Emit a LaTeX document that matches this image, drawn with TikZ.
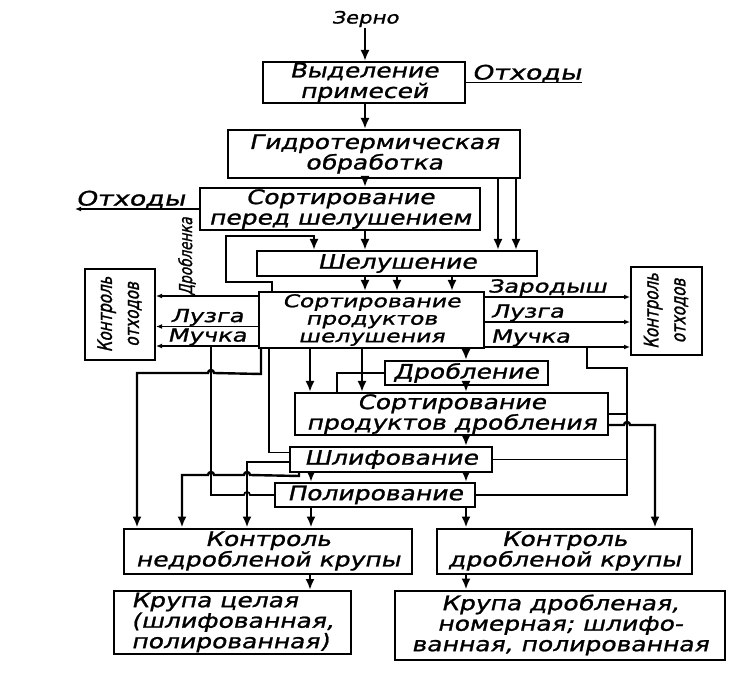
\documentclass[tikz,border=0pt]{standalone}
\usepackage{graphicx}
\usepackage{fontspec}
\newfontfamily\sketchfont[FakeSlant=0.22,FakeStretch=1.25,FakeBold=1.2]{DejaVu Sans}
\newfontfamily\sketchwide[FakeSlant=0.22,FakeStretch=1.35,FakeBold=1.2]{DejaVu Sans}
\newfontfamily\sketchnarrow[FakeSlant=0.22,FakeStretch=0.75,FakeBold=1.2]{DejaVu Sans}
\usetikzlibrary{arrows.meta, calc}

\begin{document}
\begin{tikzpicture}[x=1pt, y=-1pt,
    % Styles for the process stages and streams
    stage/.style={draw, line width=2pt, inner sep=0pt, align=center, font=\sketchfont\fontsize{20}{20.5}\selectfont},
    waste/.style={draw, line width=2pt, inner sep=0pt, font=\sketchnarrow\fontsize{20}{27}\selectfont},
    lbl/.style={inner sep=0.5pt, font=\sketchwide\fontsize{18}{18}\selectfont},
    flow/.style={line width=2.4pt, -{Latex[length=11pt,width=9pt]}},
    link/.style={line width=1.7pt},
    tip/.style={line width=1.4pt, -{Latex[length=6pt,width=5pt]}}
  ]
  \useasboundingbox (0,0) rectangle (750,676);

  % --- MAIN STAGES ---
  \node[lbl, font=\sketchfont\fontsize{17}{17}\selectfont] (grain) at (365,19) {Зерно};
  \node[stage, minimum width=202pt, minimum height=41pt] (sep) at (364,82.5) {Выделение\\примесей};
  \node[stage, minimum width=292pt, minimum height=48pt] (hydro) at (374,154) {Гидротермическая\\обработка};
  \node[stage, minimum width=280pt, minimum height=42pt] (presort) at (340,209) {Сортирование\\перед шелушением};
  \node[stage, minimum width=280pt, minimum height=25pt] (hull) at (397,263.5) {Шелушение};
  \node[stage, minimum width=225pt, minimum height=56pt, font=\sketchwide\fontsize{17.5}{17.5}\selectfont] (hullsort) at (371.5,320) {Сортирование\\продуктов\\шелушения};
  \node[stage, minimum width=163pt, minimum height=24pt] (crush) at (466,373) {Дробление};
  \node[stage, minimum width=313pt, minimum height=42pt] (crushsort) at (451.5,414) {Сортирование\\продуктов дробления};
  \node[stage, minimum width=202pt, minimum height=25pt] (grind) at (391,459.5) {Шлифование};
  \node[stage, minimum width=200pt, minimum height=24pt] (polish) at (375,495) {Полирование};
  \node[stage, minimum width=288pt, minimum height=45pt] (ctrlW) at (268,551) {Контроль\\недробленой крупы};
  \node[stage, minimum width=255pt, minimum height=45pt] (ctrlB) at (564.5,551) {Контроль\\дробленой крупы};
  \node[stage, minimum width=237pt, minimum height=63pt, align=left] (whole) at (232.5,622.5) {Крупа целая\\(шлифованная,\\полированная)};
  \node[stage, minimum width=330pt, minimum height=69pt] (broken) at (560,625) {Крупа дробленая,\\номерная; шлифо-\\ванная, полированная};

  % --- WASTE CONTROL ---
  \node[waste, minimum width=70pt, minimum height=91pt] (wasteL) at (120,314.5) {\rotatebox{90}{\begin{tabular}{@{}c@{}}Контроль\\отходов\end{tabular}}};
  \node[waste, minimum width=71pt, minimum height=88pt] (wasteR) at (666.5,311) {\rotatebox{90}{\begin{tabular}{@{}c@{}}Контроль\\отходов\end{tabular}}};

  % --- STREAM LABELS ---
  \node[lbl, font=\sketchwide\fontsize{20}{20}\selectfont, anchor=south east] (wasteA) at (582,83) {Отходы};
  \node[lbl, font=\sketchwide\fontsize{20}{20}\selectfont, anchor=south west] (wasteB) at (75,209) {Отходы};
  \node[lbl, font=\sketchnarrow\fontsize{18}{18}\selectfont, rotate=90, anchor=west] (brokL) at (187,296) {Дробленка};
  \node[lbl, anchor=south] (huskL) at (207,326.5) {Лузга};
  \node[lbl, anchor=south] (mealL) at (207,346) {Мучка};
  \node[lbl, anchor=south west] (germR) at (487,297) {Зародыш};
  \node[lbl, anchor=south west] (huskR) at (490,322) {Лузга};
  \node[lbl, anchor=south west] (mealR) at (490,347) {Мучка};

  % --- MAIN FLOW ---
  \draw[flow] (grain.south) -- (grain.south |- sep.north);
  \draw[flow] (sep.south -| grain) -- (grain |- hydro.north);
  \draw[link] (sep.east) -- (sep.east -| wasteA.east);
  \draw[flow] (hydro.south -| grain) -- (grain |- presort.north);
  \draw[flow] ([xshift=124pt]hydro.south) -- ([xshift=124pt]hydro.south |- hull.north);
  \draw[flow] ([xshift=142pt]hydro.south) -- ([xshift=142pt]hydro.south |- hull.north);
  \draw[tip] (presort.west) -- (presort.west -| wasteB.west);
  \draw[flow] (presort.south -| grain) -- (grain |- hull.north);

  % unhulled grain back to hulling
  \draw[flow] ([xshift=14pt]hullsort.north west) -- ++(0,-9) -| ++(-46,-46) -| ([xshift=58pt]hull.north west);
  \foreach \dx in {-32,0,55}
    \draw[flow] ([xshift=\dx pt]hull.south) -- ([xshift=\dx pt]hull.south |- hullsort.north);

  % by-products to waste control
  \draw[tip] (brokL.west -| hullsort.west) -- (brokL.west -| wasteL.east);
  \draw[tip] (huskL.south -| hullsort.west) -- (huskL.south -| wasteL.east);
  \draw[tip] (mealL.south -| hullsort.west) -- (mealL.south -| wasteL.east);
  \draw[tip] (germR.south -| hullsort.east) -- (germR.south -| wasteR.west);
  \draw[tip] (huskR.south -| hullsort.east) -- (huskR.south -| wasteR.west);
  \draw[tip] (mealR.south -| hullsort.east) -- (mealR.south -| wasteR.west);

  % --- CRUSHING LINE ---
  \draw[flow] (crush.north |- hullsort.south) -- (crush.north);
  \draw[flow] (crush.south) -- (crush.south |- crushsort.north);
  \draw[flow] ([xshift=-61.5pt]hullsort.south) -- ([xshift=-61.5pt]hullsort.south |- crushsort.north);
  \draw[flow] ([xshift=-9.5pt]hullsort.south) -- ([xshift=-9.5pt]hullsort.south |- crushsort.north);
  \draw[link] (crush.west) -| ([xshift=43pt]crushsort.north west);
  \draw[flow] (crushsort.south -| crush) -- (crush |- grind.north);
  \foreach \dx in {-80,75}
    \draw[flow] ([xshift=\dx pt]grind.south) -- ([xshift=\dx pt]grind.south |- polish.north);
  \draw[flow] ([xshift=-64pt]polish.south) -- ([xshift=-64pt]polish.south |- ctrlW.north);
  \draw[flow] ([xshift=91pt]polish.south) -- ([xshift=91pt]polish.south |- ctrlB.north);

  % --- LEFT STREAMS ---
  \draw[flow] ([xshift=3pt]hullsort.south west) -- ++(0,25) -- (214,373) arc (0:180:3pt) -- (137,373) -- (ctrlW.north -| 137,0);
  \draw[link] (polish.west) -- (250,495) arc (0:180:3pt) -- (211,495) -- (mealL.south -| 211,0);
  \draw[link] ([xshift=11pt]hullsort.south west) |- ([yshift=7pt]grind.west);
  \draw[flow] ([yshift=-2.5pt]grind.west) -| (ctrlW.north -| 247,0);
  \draw[flow] ([xshift=10pt]grind.south west) -- ++(0,3) -- (250,475) arc (0:180:3pt) -- (214,475) arc (0:180:3pt) -- (182,475) -- (ctrlW.north -| 182,0);

  % --- RIGHT STREAMS ---
  \draw[link] (polish.east) -| (627,368) -| (mealR.south -| 587,0);
  \draw[link] (grind.east) -- (grind.east -| 627,0);
  \draw[link] (crushsort.east) -- (crushsort.east -| 627,0);
  \draw[flow] ([yshift=-11pt]crushsort.east) -- (624,425) arc (180:0:3pt) -- (655,425) -- (ctrlB.north -| 655,0);

  % --- FINAL PRODUCTS ---
  \draw[flow] ([xshift=42pt]ctrlW.south) -- ([xshift=42pt]ctrlW.south |- whole.north);
  \draw[flow] ([xshift=-98.5pt]ctrlB.south) -- ([xshift=-98.5pt]ctrlB.south |- broken.north);
\end{tikzpicture}
\end{document}
